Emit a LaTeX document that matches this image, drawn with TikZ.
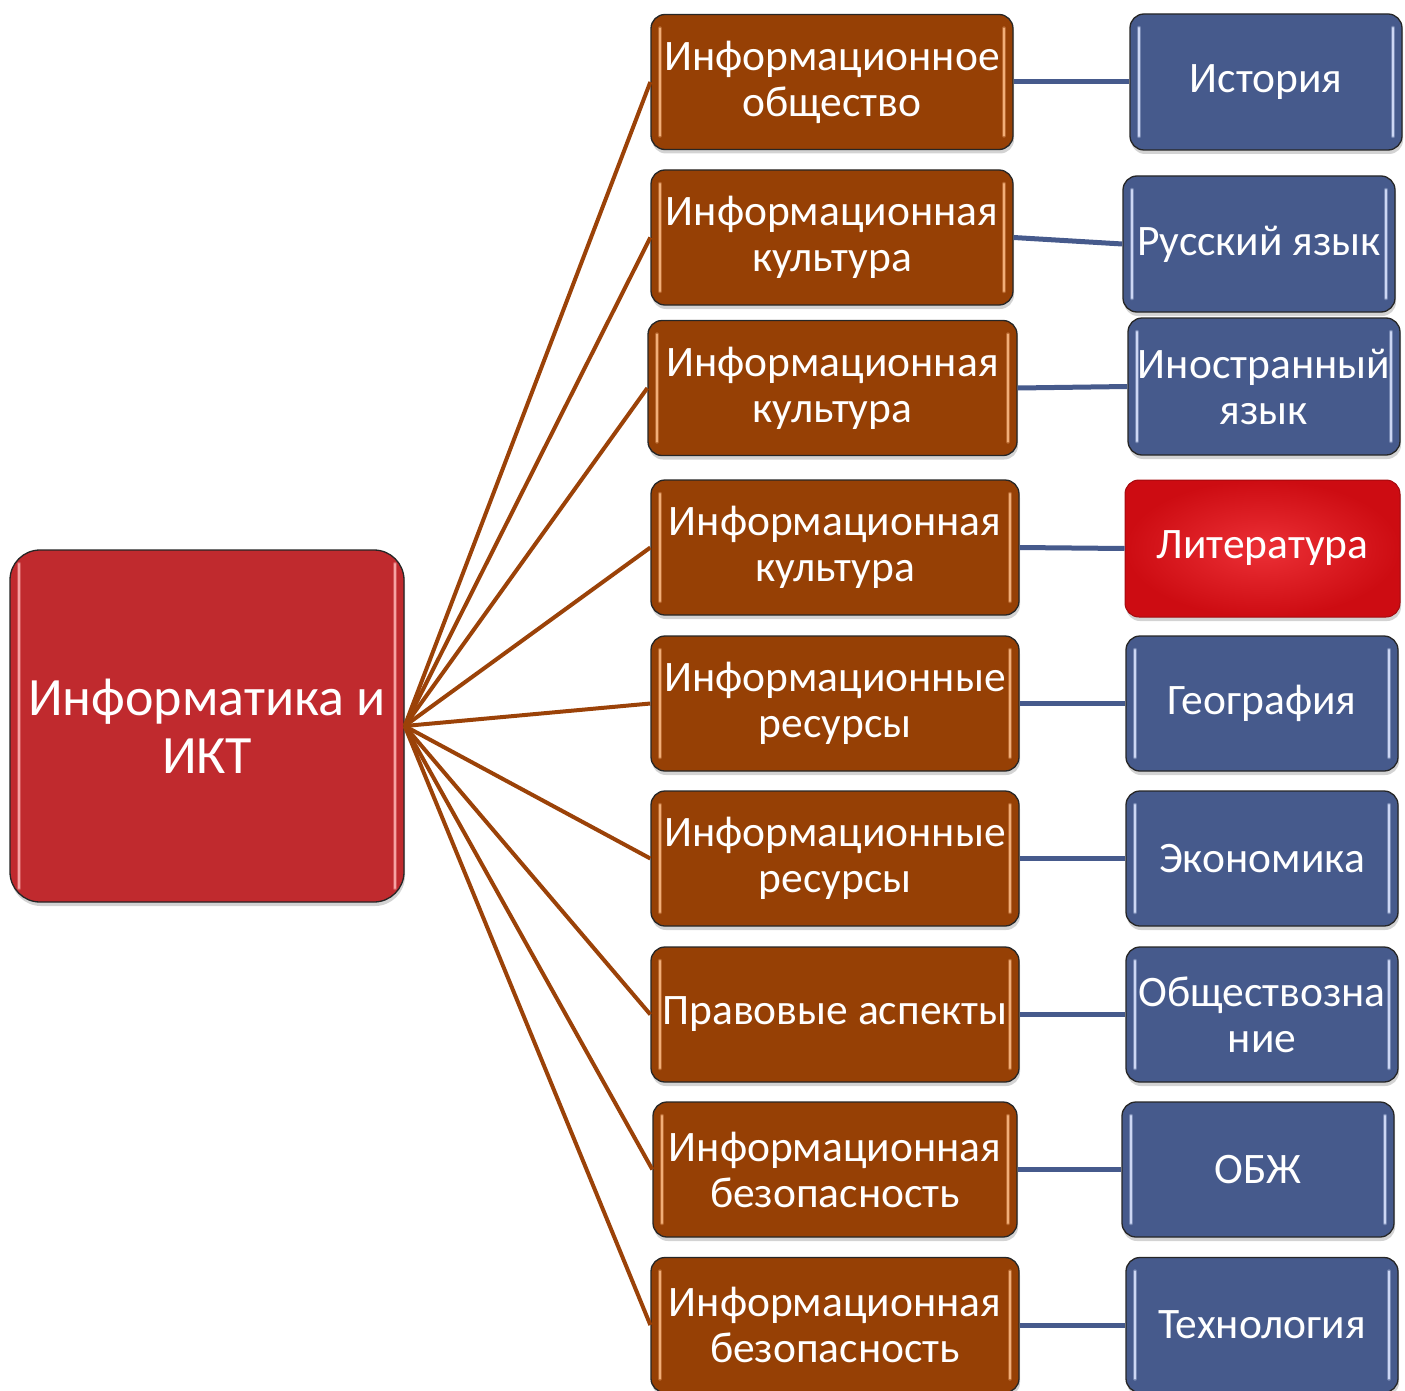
\documentclass[tikz,border=0pt]{standalone}
\usepackage{fontspec}
\setmainfont{Carlito}
\usetikzlibrary{shadows}
\definecolor{brownfill}{RGB}{150,64,5}
\definecolor{brownhl}{RGB}{245,178,125}
\definecolor{bluefill}{RGB}{70,90,140}
\definecolor{bluehl}{RGB}{210,220,248}
\definecolor{redfill}{RGB}{192,42,46}
\definecolor{redhl}{RGB}{248,168,168}
\definecolor{litin}{RGB}{236,48,54}
\definecolor{litout}{RGB}{205,12,18}
\definecolor{brownline}{RGB}{155,66,8}
\definecolor{blueline}{RGB}{70,90,140}
\tikzset{
  glossy/.style={rounded corners=14pt, draw=black!85, line width=1.3pt,
    drop shadow={shadow xshift=1pt, shadow yshift=-4pt, opacity=0.35},
    text=white, align=center, inner sep=0pt,
    path picture={
      \draw[#1, line width=4.5pt, line cap=round, opacity=0.35]
        ([xshift=9pt,yshift=-14pt]path picture bounding box.north west) --
        ([xshift=9pt,yshift=14pt]path picture bounding box.south west);
      \draw[#1, line width=4.5pt, line cap=round, opacity=0.35]
        ([xshift=-9pt,yshift=-14pt]path picture bounding box.north east) --
        ([xshift=-9pt,yshift=14pt]path picture bounding box.south east);
      \draw[#1, line width=2.2pt, line cap=round, opacity=0.95]
        ([xshift=9pt,yshift=-14pt]path picture bounding box.north west) --
        ([xshift=9pt,yshift=14pt]path picture bounding box.south west);
      \draw[#1, line width=2.2pt, line cap=round, opacity=0.95]
        ([xshift=-9pt,yshift=-14pt]path picture bounding box.north east) --
        ([xshift=-9pt,yshift=14pt]path picture bounding box.south east);
    }},
  brownbox/.style={glossy=brownhl, fill=brownfill, minimum height=135pt,
    font=\fontsize{43.5}{46}\selectfont},
  bluebox/.style={glossy=bluehl, fill=bluefill, minimum width=272pt, minimum height=136pt,
    font=\fontsize{43.5}{46}\selectfont},
  litbox/.style={rounded corners=14pt, draw=litout!80!black, line width=1pt,
    inner color=litin, outer color=litout,
    drop shadow={shadow xshift=1pt, shadow yshift=-4pt, opacity=0.35},
    text=white, align=center, inner sep=0pt, minimum width=275pt, minimum height=137pt,
    font=\fontsize{43.5}{46}\selectfont},
  mainbox/.style={glossy=redhl, fill=redfill, minimum width=394pt, minimum height=352pt,
    rounded corners=30pt, font=\fontsize{54}{58}\selectfont},
  bconn/.style={draw=brownline, line width=4pt},
  lconn/.style={draw=blueline, line width=5pt},
}
\begin{document}
\begin{tikzpicture}[x=1pt,y=-1pt]
\useasboundingbox (0,0) rectangle (1405,1391);
\node[mainbox] (m) at (207,726) {Информатика и\\ИКТ};
\node[brownbox, minimum width=362pt] (b1) at (832,82) {Информационное\\общество};
\node[brownbox, minimum width=362pt] (b2) at (832,237.5) {Информационная\\культура};
\node[brownbox, minimum width=369pt] (b3) at (832.5,388) {Информационная\\культура};
\node[brownbox, minimum width=368pt] (b4) at (835,547.5) {Информационная\\культура};
\node[brownbox, minimum width=368pt] (b5) at (835,703.5) {Информационные\\ресурсы};
\node[brownbox, minimum width=368pt] (b6) at (835,858.5) {Информационные\\ресурсы};
\node[brownbox, minimum width=368pt] (b7) at (835,1014.5) {Правовые аспекты};
\node[brownbox, minimum width=364pt] (b8) at (835,1169.5) {Информационная\\безопасность};
\node[brownbox, minimum width=368pt] (b9) at (835,1325) {Информационная\\безопасность};
\node[bluebox] (r1) at (1266,82) {История};
\node[bluebox] (r2) at (1259,244) {Русский язык};
\node[bluebox, minimum height=137pt] (r3) at (1264,386.5) {Иностранный\\язык};
\node[litbox] (r4) at (1262.5,548.5) {Литература};
\node[bluebox, minimum height=135pt] (r5) at (1262,703.5) {География};
\node[bluebox, minimum height=135pt] (r6) at (1262,858.5) {Экономика};
\node[bluebox, minimum height=135pt] (r7) at (1262,1014.5) {Обществозна\\ние};
\node[bluebox, minimum height=135pt] (r8) at (1258,1169.5) {ОБЖ};
\node[bluebox, minimum height=135pt] (r9) at (1262,1325) {Технология};
\foreach \i in {1,...,9}{
  \draw[bconn] (m.east) -- (b\i.west);
  \draw[lconn] (b\i.east) -- (r\i.west);
}
\end{tikzpicture}
\end{document}
